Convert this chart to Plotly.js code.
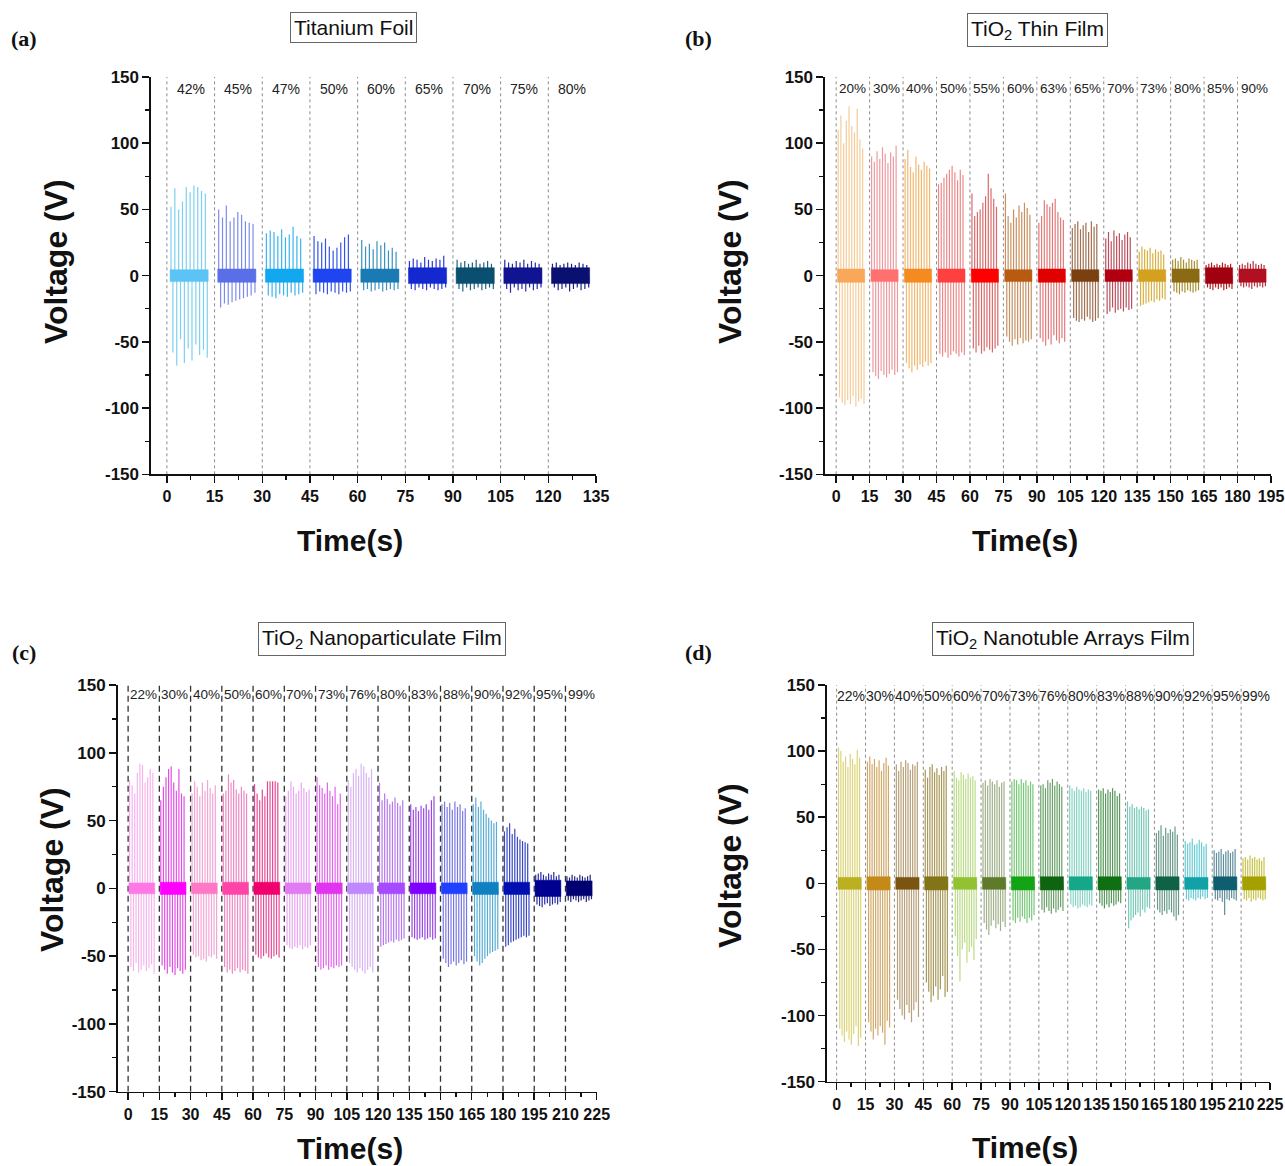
<!DOCTYPE html>
<html>
<head>
<meta charset="utf-8">
<script src="https://cdn.plot.ly/plotly-3.0.1.min.js"></script>
<style>
  html, body { margin: 0; padding: 0; background: #fff; }
  #chart { width: 1285px; height: 1166px; }
</style>
</head>
<body>
<div id="chart"></div>
<script>
// ---------- (a) Titanium foil: humidity steps, peak voltages per spike ----------
const foilLabels = ['42%', '45%', '47%', '50%', '60%', '65%', '70%', '75%', '80%'];
const foilPos = [
  [52, 66, 50, 56, 67, 63, 68, 67, 64, 62],
  [50, 44, 53, 41, 44, 48, 46, 41, 40, 39],
  [32, 34, 33, 30, 35, 29, 31, 37, 30, 28],
  [30, 26, 25, 28, 22, 19, 21, 25, 29, 31],
  [27, 22, 24, 20, 26, 23, 25, 19, 21, 18],
  [11, 13, 12, 10, 14, 12, 11, 13, 12, 15],
  [12, 10, 11, 9, 10, 12, 9, 10, 11, 9],
  [12, 10, 9, 11, 10, 12, 9, 11, 10, 9],
  [9, 10, 8, 9, 10, 9, 8, 10, 9, 8]
];
const foilNeg = [
  [-58, -68, -48, -66, -55, -64, -52, -60, -56, -62],
  [-24, -21, -22, -20, -19, -18, -17, -16, -15, -13],
  [-15, -16, -17, -14, -15, -16, -13, -15, -14, -13],
  [-14, -12, -13, -14, -12, -13, -14, -12, -13, -12],
  [-11, -10, -12, -11, -10, -12, -11, -10, -11, -10],
  [-10, -11, -9, -10, -11, -9, -10, -11, -10, -9],
  [-10, -12, -9, -11, -10, -9, -11, -10, -9, -10],
  [-10, -13, -9, -11, -10, -12, -9, -11, -10, -9],
  [-9, -11, -10, -9, -12, -10, -9, -11, -10, -9]
];
const foilNoise = [4.5, 5, 5, 5, 5, 6, 6, 6, 6];

// ---------- (b) TiO2 thin film ----------
const thinLabels = ['20%', '30%', '40%', '50%', '55%', '60%', '63%', '65%', '70%', '73%', '80%', '85%', '90%'];
const thinPos = [
  [110, 121, 100, 117, 128, 113, 108, 126, 103, 96],
  [90, 86, 94, 88, 97, 92, 85, 93, 90, 98],
  [88, 95, 82, 78, 90, 84, 80, 86, 83, 81],
  [69, 70, 74, 77, 80, 83, 78, 72, 80, 76],
  [62, 45, 48, 50, 55, 60, 77, 66, 58, 52],
  [62, 45, 40, 50, 44, 53, 48, 55, 51, 46],
  [40, 45, 57, 54, 52, 55, 58, 48, 44, 42],
  [36, 39, 41, 35, 38, 40, 33, 41, 37, 39],
  [28, 33, 26, 34, 30, 32, 27, 31, 33, 29],
  [18, 22, 20, 19, 21, 17, 20, 18, 19, 16],
  [12, 13, 11, 14, 12, 10, 13, 12, 11, 12],
  [8, 9, 10, 8, 9, 8, 10, 9, 8, 9],
  [8, 9, 8, 10, 9, 11, 9, 8, 9, 8]
];
const thinNeg = [
  [-92, -96, -98, -94, -97, -91, -99, -95, -93, -97],
  [-73, -76, -78, -72, -75, -77, -74, -71, -75, -73],
  [-66, -70, -73, -68, -71, -67, -69, -65, -68, -66],
  [-59, -61, -58, -62, -60, -57, -59, -61, -58, -60],
  [-55, -58, -53, -59, -57, -54, -56, -58, -55, -53],
  [-46, -50, -53, -48, -52, -47, -51, -49, -50, -48],
  [-47, -50, -53, -48, -52, -45, -49, -51, -47, -50],
  [-32, -34, -35, -33, -34, -31, -33, -35, -34, -32],
  [-29, -27, -24, -28, -26, -25, -27, -24, -26, -25],
  [-23, -22, -21, -20, -19, -20, -18, -19, -17, -18],
  [-12, -13, -14, -12, -13, -11, -12, -13, -12, -11],
  [-9, -10, -11, -9, -10, -9, -11, -10, -9, -10],
  [-8, -9, -8, -9, -10, -8, -9, -8, -9, -8]
];
const thinNoise = [5, 4.5, 5, 5, 5, 4.5, 5, 4.5, 4.5, 4.5, 5, 6, 5];

// ---------- (c) TiO2 nanoparticulate film ----------
const npLabels = ['22%', '30%', '40%', '50%', '60%', '70%', '73%', '76%', '80%', '83%', '88%', '90%', '92%', '95%', '99%'];
const npPos = [
  [80, 76, 70, 85, 92, 91, 78, 82, 88, 85],
  [65, 75, 82, 88, 90, 78, 72, 88, 70, 68],
  [70, 79, 75, 68, 78, 72, 80, 74, 70, 76],
  [70, 72, 84, 78, 80, 73, 70, 75, 72, 70],
  [77, 70, 65, 73, 68, 79, 79, 79, 79, 78],
  [68, 72, 79, 75, 70, 72, 78, 74, 71, 73],
  [82, 76, 74, 70, 78, 72, 68, 75, 62, 70],
  [80, 75, 85, 88, 83, 92, 90, 85, 82, 88],
  [78, 65, 70, 66, 62, 64, 67, 63, 61, 65],
  [62, 58, 60, 57, 61, 59, 62, 58, 65, 68],
  [62, 64, 60, 63, 58, 64, 60, 62, 57, 59],
  [62, 67, 60, 64, 58, 55, 52, 50, 48, 49],
  [42, 45, 48, 40, 44, 38, 36, 35, 34, 33],
  [10, 11, 12, 10, 9, 11, 10, 12, 9, 10],
  [9, 8, 10, 9, 8, 10, 9, 8, 9, 10]
];
const npNeg = [
  [-58, -61, -55, -62, -60, -57, -61, -59, -56, -63],
  [-57, -60, -63, -58, -62, -64, -59, -61, -63, -60],
  [-49, -51, -50, -53, -52, -54, -50, -51, -49, -52],
  [-58, -62, -60, -63, -61, -59, -62, -60, -61, -63],
  [-49, -51, -52, -50, -48, -51, -52, -50, -49, -51],
  [-42, -44, -45, -43, -44, -42, -45, -43, -44, -42],
  [-58, -60, -59, -57, -60, -58, -59, -57, -58, -57],
  [-55, -58, -60, -62, -59, -61, -63, -60, -58, -62],
  [-43, -42, -41, -40, -39, -40, -38, -39, -38, -37],
  [-36, -37, -38, -37, -36, -38, -37, -36, -38, -37],
  [-52, -55, -58, -56, -54, -57, -55, -53, -56, -54],
  [-50, -54, -57, -55, -52, -50, -48, -47, -46, -45],
  [-43, -42, -40, -39, -38, -37, -36, -35, -36, -35],
  [-12, -13, -14, -12, -11, -13, -12, -11, -12, -10],
  [-9, -10, -8, -9, -10, -9, -8, -10, -9, -8]
];
const npNoise = [4, 4.5, 4, 4.5, 4.5, 4, 4, 4, 4, 4, 4, 4.5, 4.5, 6, 5.5];

// ---------- (d) TiO2 nanotube arrays film ----------
const ntLabels = ['22%', '30%', '40%', '50%', '60%', '70%', '73%', '76%', '80%', '83%', '88%', '90%', '92%', '95%', '99%'];
const ntPos = [
  [103, 100, 92, 96, 88, 98, 94, 90, 101, 95],
  [92, 96, 90, 94, 88, 93, 85, 91, 95, 89],
  [90, 85, 92, 88, 93, 91, 86, 90, 89, 92],
  [86, 80, 88, 90, 84, 87, 82, 88, 85, 89],
  [85, 80, 78, 84, 82, 79, 83, 80, 81, 78],
  [76, 78, 74, 79, 77, 75, 78, 73, 76, 77],
  [77, 79, 78, 75, 79, 76, 78, 74, 77, 75],
  [74, 75, 72, 78, 76, 79, 74, 77, 75, 73],
  [74, 72, 70, 73, 71, 70, 72, 69, 71, 70],
  [71, 70, 72, 68, 71, 69, 72, 70, 66, 68],
  [62, 58, 60, 57, 58, 56, 58, 57, 55, 56],
  [38, 40, 44, 36, 42, 38, 41, 39, 43, 37],
  [32, 30, 31, 34, 29, 30, 33, 31, 28, 30],
  [25, 23, 24, 26, 22, 24, 25, 23, 24, 26],
  [19, 20, 18, 21, 19, 20, 18, 19, 17, 20]
];
const ntNeg = [
  [-110, -115, -120, -112, -118, -122, -114, -108, -123, -117],
  [-105, -112, -118, -110, -115, -108, -113, -122, -104, -109],
  [-88, -95, -100, -103, -92, -98, -105, -96, -90, -101],
  [-75, -82, -90, -85, -78, -88, -80, -70, -86, -82],
  [-40, -55, -74, -50, -45, -60, -52, -48, -58, -42],
  [-30, -35, -39, -32, -28, -34, -31, -36, -29, -33],
  [-28, -30, -26, -29, -25, -27, -30, -26, -28, -24],
  [-20, -22, -18, -21, -23, -19, -22, -20, -18, -21],
  [-16, -18, -17, -19, -18, -16, -17, -18, -16, -17],
  [-15, -17, -19, -16, -18, -15, -17, -16, -14, -15],
  [-34, -28, -26, -24, -22, -25, -20, -22, -18, -19],
  [-20, -22, -24, -21, -23, -20, -22, -25, -28, -24],
  [-12, -13, -11, -12, -13, -11, -12, -10, -12, -11],
  [-12, -13, -11, -14, -24, -12, -13, -11, -12, -13],
  [-12, -13, -11, -14, -12, -13, -11, -12, -13, -12]
];
const ntNoise = [4.5, 5, 4.5, 5, 4.5, 4.5, 5, 5, 5, 5, 4.5, 5, 4.5, 5, 5];

// ---------- colours (spike lines / dense baseline) ----------
const foilSpikeColors = ['#7FD0F0', '#7C8CEB', '#3AB4F0', '#3355EE', '#3A90C0', '#2A38D8', '#1F6080', '#24289E', '#1A2080'];
const foilBaseColors  = ['#5BC4F5', '#5A6EE8', '#12A8F0', '#1F45F0', '#1A7AB4', '#1428D0', '#0A4F70', '#101490', '#0A1070'];
const thinSpikeColors = ['#F5CC98', '#EC9AA0', '#F2B870', '#EC8A8A', '#D86A6A', '#C89060', '#E07A7A', '#A07050', '#B8505E', '#D8B040', '#A89030', '#B02020', '#B83040'];
const thinBaseColors  = ['#F8A858', '#FF7070', '#F58A20', '#FF4040', '#FF0000', '#B85A10', '#E00000', '#7A4010', '#B00010', '#D4A020', '#8B6A14', '#A00010', '#B01020'];
const npSpikeColors = ['#F6B4EC', '#E050E4', '#F2A6D6', '#EC88C2', '#E44C96', '#E8A8F2', '#E066EA', '#D8B4F2', '#B578EC', '#9A48E4', '#7878E4', '#58AED4', '#3848C4', '#2A2AA8', '#202080'];
const npBaseColors  = ['#FF78E6', '#FF00FF', '#FF78C8', '#FF44A8', '#F0006C', '#E27AF4', '#E034F0', '#C088FF', '#A64AFF', '#8000FF', '#2040FF', '#1080C0', '#0010B0', '#000090', '#000070'];
const ntSpikeColors = ['#DCD478', '#D0A868', '#B8A078', '#A89858', '#BCDC88', '#A0B088', '#78C878', '#68A068', '#88D4C4', '#58985A', '#78C8B8', '#6A9A8A', '#68CCD4', '#608E9C', '#C8C448'];
const ntBaseColors  = ['#BAB020', '#C48A18', '#7A5410', '#847418', '#92C232', '#5E7A2A', '#12A414', '#0E6410', '#14A888', '#0E7012', '#22A684', '#0E6246', '#10A2A6', '#0E5E70', '#A4A000'];

const yTicks = [-150, -100, -50, 0, 50, 100, 150];
const STEP = 15; // seconds per humidity step

// ---------- page geometry ----------
const W = 1285, H = 1166;
const panels = [
  { labels: foilLabels, pos: foilPos, neg: foilNeg, noise: foilNoise, spike: foilSpikeColors, base: foilBaseColors,
    xmax: 135, on: [1.0, 13.0], px: [151, 596], py: [77, 474.3],
    title: 'Titanium Foil', titleAt: [353, 28], letter: '(a)', letterAt: [24, 38],
    divDash: '3px,3px', divColor: '#8c8c8c', divWidth: 1, labelSize: 14, labelY: 141,
    xTitleAt: [350, 541], yTitleAt: [56, 262] },
  { labels: thinLabels, pos: thinPos, neg: thinNeg, noise: thinNoise, spike: thinSpikeColors, base: thinBaseColors,
    xmax: 195, on: [0.6, 12.8], px: [825, 1271], py: [77, 474.3],
    title: 'TiO<sub>2</sub> Thin Film', titleAt: [1037, 30], letter: '(b)', letterAt: [699, 38],
    divDash: '3px,3px', divColor: '#8c8c8c', divWidth: 1, labelSize: 13.5, labelY: 141,
    xTitleAt: [1025, 541], yTitleAt: [730, 262] },
  { labels: npLabels, pos: npPos, neg: npNeg, noise: npNoise, spike: npSpikeColors, base: npBaseColors,
    xmax: 225, on: [0.4, 12.8], px: [117.7, 596.7], py: [685, 1091.7],
    title: 'TiO<sub>2</sub> Nanoparticulate Film', titleAt: [381.5, 638.5], letter: '(c)', letterAt: [24, 652],
    divDash: '6px,4px', divColor: '#333333', divWidth: 1.3, labelSize: 13.5, labelY: 143,
    xTitleAt: [350, 1148], yTitleAt: [52, 870] },
  { labels: ntLabels, pos: ntPos, neg: ntNeg, noise: ntNoise, spike: ntSpikeColors, base: ntBaseColors,
    xmax: 225, on: [0.7, 12.8], px: [827, 1270], py: [685, 1081.7],
    title: 'TiO<sub>2</sub> Nanotuble Arrays Film', titleAt: [1062.5, 638.5], letter: '(d)', letterAt: [699, 652],
    divDash: '3px,3px', divColor: '#8c8c8c', divWidth: 1, labelSize: 14, labelY: 142,
    xTitleAt: [1025, 1147], yTitleAt: [730, 866] }
];

const traces = [];
const annotations = [];
const layout = {
  width: W, height: H,
  margin: { l: 0, r: 0, t: 0, b: 0 },
  paper_bgcolor: '#fff', plot_bgcolor: '#fff',
  showlegend: false,
  font: { family: 'Liberation Sans, Arial, sans-serif', color: '#111' },
  annotations: annotations
};

panels.forEach((p, idx) => {
  const sfx = idx === 0 ? '' : String(idx + 1);
  const xa = 'x' + sfx, ya = 'y' + sfx;

  // dashed dividers between humidity steps
  const dx = [], dy = [];
  p.labels.forEach((_, k) => { dx.push(k * STEP, k * STEP, null); dy.push(-150, 150, null); });
  traces.push({ type: 'scatter', mode: 'lines', x: dx, y: dy, xaxis: xa, yaxis: ya,
    line: { color: p.divColor, width: p.divWidth, dash: p.divDash }, hoverinfo: 'skip' });

  p.labels.forEach((lab, k) => {
    const t0 = k * STEP + p.on[0], t1 = k * STEP + p.on[1];
    const n = p.pos[k].length, step = (t1 - t0) / n;
    const sx = [], sy = [];
    for (let i = 0; i < n; i++) {
      const tp = t0 + (i + 0.25) * step, tn = t0 + (i + 0.75) * step;
      sx.push(tp, tp, null, tn, tn, null);
      sy.push(0, p.pos[k][i], null, 0, p.neg[k][i], null);
    }
    traces.push({ type: 'scatter', mode: 'lines', x: sx, y: sy, xaxis: xa, yaxis: ya,
      line: { color: p.spike[k], width: 1.2 }, hoverinfo: 'skip' });

    // dense low-amplitude baseline between the contact spikes
    const b = p.noise[k];
    traces.push({ type: 'scatter', mode: 'lines', x: [t0, t1, t1, t0, t0], y: [-b, -b, b, b, -b],
      xaxis: xa, yaxis: ya, fill: 'toself', fillcolor: p.base[k],
      line: { color: p.base[k], width: 0.5 }, hoverinfo: 'skip' });

    annotations.push({ xref: xa, yref: ya, x: k * STEP + STEP / 2, y: p.labelY, text: lab,
      showarrow: false, font: { size: p.labelSize, color: '#222' } });
  });

  const tickFont = { size: 16, weight: 'bold', color: '#111' };
  layout['xaxis' + sfx] = {
    domain: [p.px[0] / W, p.px[1] / W], anchor: ya, range: [-5, p.xmax],
    tickmode: 'linear', tick0: 0, dtick: STEP, tickangle: 0, ticklabeloverflow: 'allow',
    ticks: 'outside', ticklen: 7, tickwidth: 1.5, tickcolor: '#111',
    minor: { tickmode: 'linear', tick0: 0, dtick: STEP / 2, ticks: 'outside', ticklen: 4, tickwidth: 1.3, tickcolor: '#111', showgrid: false },
    showline: true, linecolor: '#111', linewidth: 1.6, showgrid: false, zeroline: false,
    tickfont: tickFont, fixedrange: true
  };
  layout['yaxis' + sfx] = {
    domain: [1 - p.py[1] / H, 1 - p.py[0] / H], anchor: xa, range: [-150, 150],
    tickmode: 'array', tickvals: yTicks, ticktext: yTicks.map(String), ticklabeloverflow: 'allow',
    ticks: 'outside', ticklen: 7, tickwidth: 1.5, tickcolor: '#111',
    minor: { tickmode: 'linear', tick0: 0, dtick: 25, ticks: 'outside', ticklen: 4, tickwidth: 1.3, tickcolor: '#111', showgrid: false },
    showline: true, linecolor: '#111', linewidth: 1.6, showgrid: false, zeroline: false,
    tickfont: { size: 17, weight: 'bold', color: '#111' }, fixedrange: true
  };

  // boxed panel title
  annotations.push({ xref: 'paper', yref: 'paper', x: p.titleAt[0] / W, y: 1 - p.titleAt[1] / H,
    text: p.title, showarrow: false, xanchor: 'center', yanchor: 'middle',
    font: { size: 21, color: '#111' }, bordercolor: '#666', borderwidth: 1, borderpad: 3, bgcolor: '#fff' });
  // panel letter
  annotations.push({ xref: 'paper', yref: 'paper', x: p.letterAt[0] / W, y: 1 - p.letterAt[1] / H,
    text: p.letter, showarrow: false, xanchor: 'center', yanchor: 'middle',
    font: { size: 22, family: 'Liberation Serif, Times New Roman, serif', weight: 'bold', color: '#111' } });
  // axis titles
  annotations.push({ xref: 'paper', yref: 'paper', x: p.xTitleAt[0] / W, y: 1 - p.xTitleAt[1] / H,
    text: 'Time(s)', showarrow: false, xanchor: 'center', yanchor: 'middle',
    font: { size: 30, weight: 'bold', color: '#111' } });
  annotations.push({ xref: 'paper', yref: 'paper', x: p.yTitleAt[0] / W, y: 1 - p.yTitleAt[1] / H,
    text: 'Voltage (V)', showarrow: false, xanchor: 'center', yanchor: 'middle', textangle: -90,
    font: { size: 32, weight: 'bold', color: '#111' } });
});

Plotly.newPlot('chart', traces, layout, { staticPlot: true, displayModeBar: false });
</script>
</body>
</html>
